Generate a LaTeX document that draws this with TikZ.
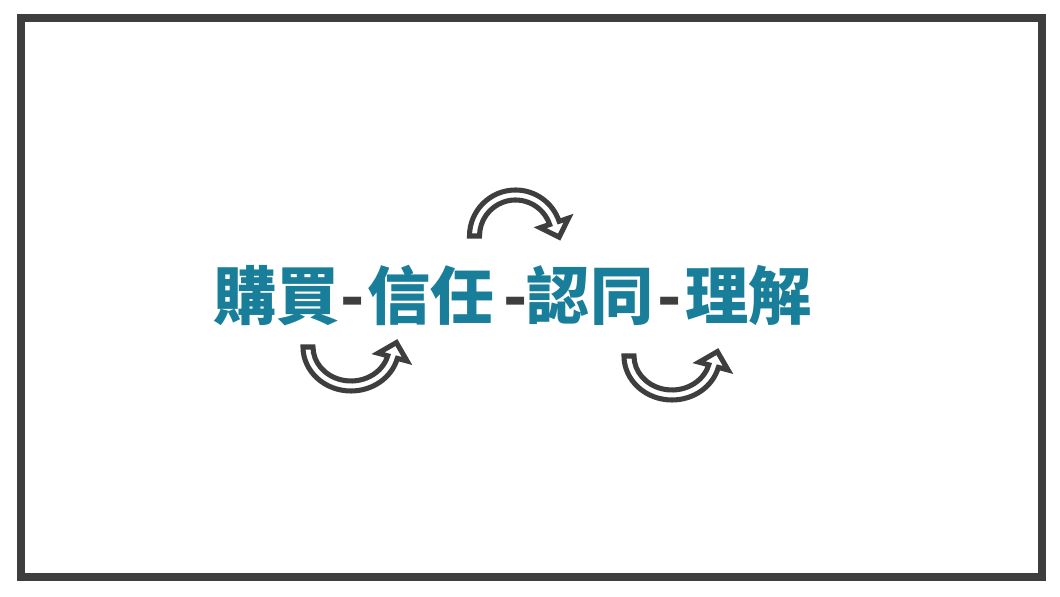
\documentclass[tikz,border=0pt]{standalone}
\usepackage{fontspec}
\newfontfamily\cjk{Noto Sans CJK TC}
\usetikzlibrary{calc}
\definecolor{wordteal}{RGB}{24,126,153}
\definecolor{darkline}{RGB}{62,62,62}
% hollow bent arrow: centre, radii, start angle, end angle, turn (90 or -90)
\newcommand{\turnarrow}[7]{%
\begin{scope}[shift={(#1,#2)}]
\filldraw[hollow arrow] (#5:{#3+5} and {#4+5})
  arc[start angle=#5, end angle=#6, x radius=#3+5, y radius=#4+5]
  -- (#6:{#3+15} and {#4+15})
  -- ($(#6:#3 and #4)+({#6+(#7)}:15)$)
  -- (#6:{#3-15} and {#4-15})
  -- (#6:{#3-5} and {#4-5})
  arc[start angle=#6, end angle=#5, x radius=#3-5, y radius=#4-5]
  -- cycle;
\end{scope}}

\begin{document}
\begin{tikzpicture}[x=0.025cm, y=0.025cm,
  word/.style={inner sep=0, anchor=base, text=wordteal,
    font=\cjk\bfseries\fontsize{45}{45}\selectfont},
  joiner/.style={word, text=darkline},
  hollow arrow/.style={draw=darkline, fill=white, line width=3.6pt, line join=miter}]
\useasboundingbox (0,0) rectangle (1060,597);
\draw[darkline, line width=5.7pt] (21,20) rectangle (1042,579);

\node[word] (buy) at (276.5,277) {購買};
\node[joiner] (join1) at (352.5,277) {-};
\node[word] (trust) at (430.5,277) {信任};
\node[joiner] (join2) at (516,277) {-};
\node[word] (agree) at (590,277) {認同};
\node[joiner] (join3) at (669.5,277) {-};
\node[word] (know) at (748.5,277) {理解};

\turnarrow{351}{250}{43}{39}{180}{345}{90}
\turnarrow{515.5}{361}{41}{41}{180}{18.6}{-90}
\turnarrow{672}{241}{43}{39}{180}{345}{90}
\end{tikzpicture}
\end{document}
